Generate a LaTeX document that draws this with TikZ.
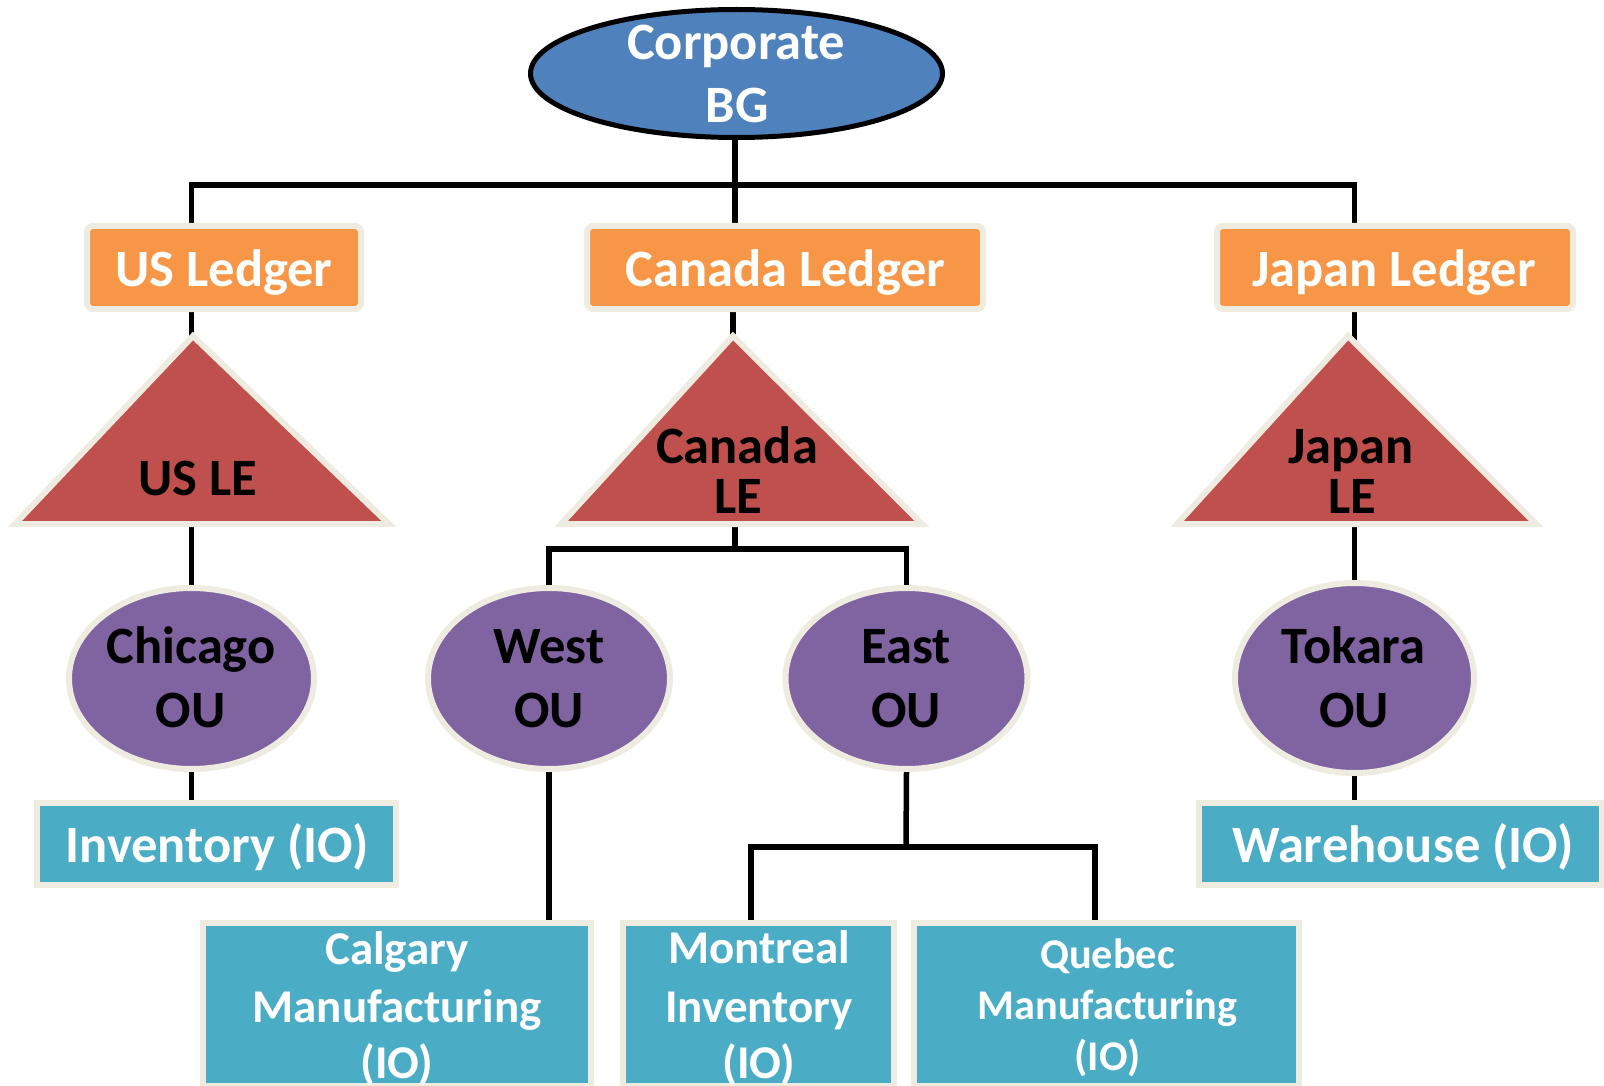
\documentclass[tikz,border=0pt]{standalone}
\usepackage{fontspec}
\setmainfont{Carlito}
\usetikzlibrary{shapes.geometric,backgrounds}

\definecolor{rimbeige}{HTML}{EEECE1}
\definecolor{corpblue}{HTML}{4F81BD}
\definecolor{ledgerorange}{HTML}{F79646}
\definecolor{entityred}{HTML}{C0504D}
\definecolor{unitpurple}{HTML}{8064A2}
\definecolor{orgaqua}{HTML}{4BACC6}

\begin{document}
\begin{tikzpicture}[x=1pt,y=-1pt,
  conn/.style={draw=black,line width=5.5pt,line cap=rect},
  rim/.style={draw=rimbeige,line width=6pt},
  corpshape/.style={ellipse,draw=black,line width=5pt,fill=corpblue,inner sep=0pt},
  ledgerbox/.style={rectangle,rim,fill=ledgerorange,rounded corners=6pt,inner sep=0pt},
  entitytri/.style={rim,fill=entityred,line join=miter},
  unitshape/.style={ellipse,rim,fill=unitpurple,inner sep=0pt},
  orgbox/.style={rectangle,rim,fill=orgaqua,inner sep=0pt},
  big/.style={anchor=base,inner sep=0pt,font=\fontsize{52.5}{63}\selectfont\bfseries},
  mid/.style={anchor=base,inner sep=0pt,font=\fontsize{47}{57}\selectfont\bfseries},
  small/.style={anchor=base,inner sep=0pt,font=\fontsize{42.3}{51}\selectfont\bfseries},
  wtxt/.style={text=white},
  btxt/.style={text=black}
]
\useasboundingbox (0,0) rectangle (1604,1086);

% ---------- top of the tree ----------
\node[corpshape,minimum width=412pt,minimum height=128pt] (corp) at (736.5,73.5) {};

% ---------- ledgers ----------
\node[ledgerbox,minimum width=274pt,minimum height=83pt] (usL) at (224,267.5) {};
\node[ledgerbox,minimum width=396pt,minimum height=83pt] (caL) at (785,267.5) {};
\node[ledgerbox,minimum width=356pt,minimum height=83pt] (jpL) at (1395,267.5) {};

% ---------- legal entities (triangles) ----------
\coordinate (usTop) at (193,336);
\coordinate (caTop) at (733,336);
\coordinate (jpTop) at (1348,336);
\path[entitytri] (usTop) -- (15,524) -- (389,524) -- cycle;
\path[entitytri] (caTop) -- (561,524) -- (922,524) -- cycle;
\path[entitytri] (jpTop) -- (1177,524) -- (1536,524) -- cycle;
\coordinate (caBase) at (735,524);

% ---------- operating units ----------
\node[unitshape,minimum width=245pt,minimum height=181pt] (chi) at (191.5,678.5) {};
\node[unitshape,minimum width=242pt,minimum height=181pt] (west) at (549,678.5) {};
\node[unitshape,minimum width=242pt,minimum height=181pt] (east) at (906.5,678.5) {};
\node[unitshape,minimum width=239pt,minimum height=190pt] (tok) at (1354.5,678) {};

% ---------- inventory organisations ----------
\node[orgbox,minimum width=359pt,minimum height=82pt] (inv) at (216.5,844) {};
\node[orgbox,minimum width=403pt,minimum height=82pt] (wh) at (1400.5,844) {};
\node[orgbox,minimum width=388pt,minimum height=163pt] (cal) at (397,1004.5) {};
\node[orgbox,minimum width=271pt,minimum height=163pt] (mtl) at (758.5,1004.5) {};
\node[orgbox,minimum width=385pt,minimum height=163pt] (qbc) at (1106.5,1004.5) {};

% ---------- connectors (behind the shapes) ----------
\coordinate (busTop) at (735,185);
\coordinate (busCa) at (735,549);
\coordinate (busEast) at (906,847);
\coordinate (mtlIn) at (751,923);
\coordinate (qbcIn) at (1095,923);
\begin{pgfonlayer}{background}
  \draw[conn] (usL.north -| chi.north) |- (busTop) -| (jpL.north -| tok.north);
  \draw[conn] (corp.south -| busTop) -- (caL.north -| busTop);
  \draw[conn] (usL.south -| chi.north) -- (chi.north);
  \draw[conn] (caL.south -| caTop) -- (caTop);
  \draw[conn] (jpL.south -| tok.north) -- (tok.north);
  \draw[conn] (caBase) -- (busCa);
  \draw[conn] (west.north) |- (busCa) -| (east.north);
  \draw[conn] (chi.south) -- (inv.north -| chi.south);
  \draw[conn] (tok.south) -- (wh.north -| tok.south);
  \draw[conn] (west.south) -- (cal.north -| west.south);
  \draw[conn] (east.south) -- (busEast);
  \draw[conn] (mtlIn) |- (busEast) -| (qbcIn);
\end{pgfonlayer}

% ---------- labels ----------
\node[big,wtxt] (corpA) at (736,60) {Corporate};
\node[big,wtxt] (corpB) at (737,123) {BG};

\node[big,wtxt] (usLt) at (224,286) {US Ledger};
\node[big,wtxt] (caLt) at (785.5,286) {Canada Ledger};
\node[big,wtxt] (jpLt) at (1394,286) {Japan Ledger};

\node[big,btxt] (usEt) at (198,495) {US LE};
\node[big,btxt] (caEa) at (737,463) {Canada};
\node[big,btxt] (caEb) at (738,513) {LE};
\node[big,btxt] (jpEa) at (1351,463) {Japan};
\node[big,btxt] (jpEb) at (1352,513) {LE};

\node[big,btxt] (chiA) at (191,663) {Chicago};
\node[big,btxt] (chiB) at (190.5,727) {OU};
\node[big,btxt] (westA) at (549,663) {West};
\node[big,btxt] (westB) at (549,727) {OU};
\node[big,btxt] (eastA) at (906,663) {East};
\node[big,btxt] (eastB) at (906,727) {OU};
\node[big,btxt] (tokA) at (1353.5,663) {Tokara};
\node[big,btxt] (tokB) at (1354,727) {OU};

\node[big,wtxt] (invt) at (217,862) {Inventory (IO)};
\node[big,wtxt] (wht) at (1403,862) {Warehouse (IO)};

\node[mid,wtxt] (calA) at (397,964) {Calgary};
\node[mid,wtxt] (calB) at (397,1022) {Manufacturing};
\node[mid,wtxt] (calC) at (397,1078) {(IO)};
\node[mid,wtxt] (mtlA) at (759,963) {Montreal};
\node[mid,wtxt] (mtlB) at (759,1022) {Inventory};
\node[mid,wtxt] (mtlC) at (759,1078) {(IO)};
\node[small,wtxt] (qbcA) at (1107.5,968) {Quebec};
\node[small,wtxt] (qbcB) at (1107.5,1019) {Manufacturing};
\node[small,wtxt] (qbcC) at (1107.5,1070) {(IO)};
\end{tikzpicture}
\end{document}
